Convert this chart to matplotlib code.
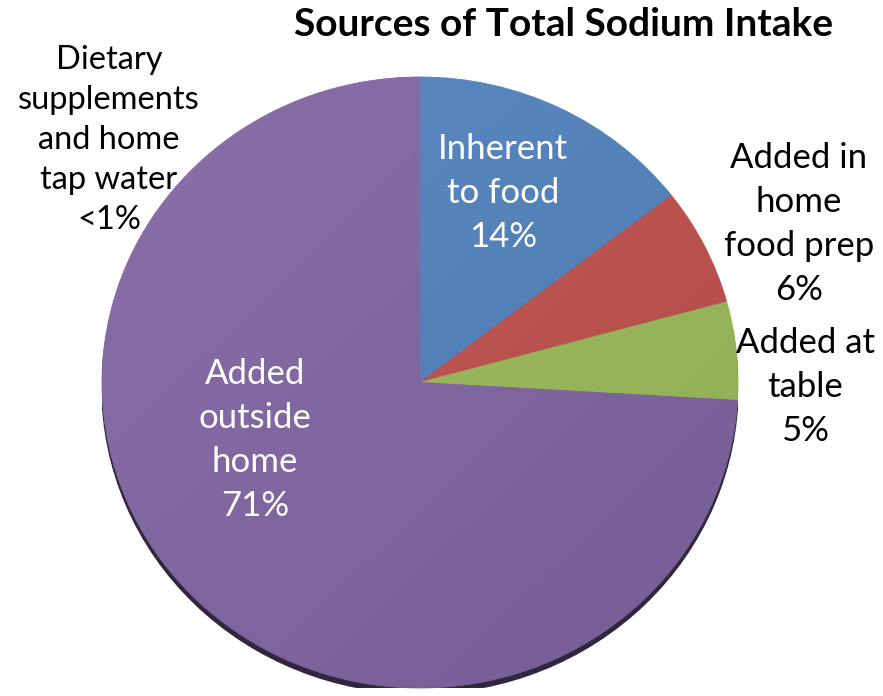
import numpy as np
import matplotlib
matplotlib.use("Agg")
import matplotlib.pyplot as plt
from matplotlib.patches import Ellipse

# data (clockwise from 12 o'clock)
sources = ["Inherent to food", "Added in home food prep", "Added at table",
           "Added outside home", "Dietary supplements and home tap water"]
shares = [14, 6, 5, 71, 0.4]
share_labels = ["14%", "6%", "5%", "71%", "<1%"]
colors = ["#4f81bd", "#c0504d", "#9bbb59", "#8064a2", "#8064a2"]

plt.rcParams["font.family"] = ["Lato", "DejaVu Sans"]

W, H = 883, 696
fig = plt.figure(figsize=(W / 100, H / 100), dpi=100)
# pie box in pixels: x 102..738, y 77..688 (slightly squashed like the original)
ax = fig.add_axes([102 / W, (H - 688) / H, 636 / W, 611 / H])

# dark rim under the pie
ax.add_patch(Ellipse((0.0, -0.018), 2.0, 2.0, color="#30263d", zorder=0))
wedges, _ = ax.pie(shares, colors=colors, startangle=90, counterclock=False,
                   radius=1.0, wedgeprops=dict(linewidth=0.6, zorder=1))
for w in wedges:
    w.set_edgecolor(w.get_facecolor())
ax.set_aspect("auto")
ax.set_xlim(-1, 1)
ax.set_ylim(-1, 1)
ax.axis("off")

# soft light-to-dark shading across the pie
yy, xx = np.mgrid[-1:1:200j, -1:1:200j]
shade = (xx - yy) / 2.0
im = ax.imshow(shade, extent=(-1, 1, -1, 1), cmap="gray_r", alpha=0.08,
               zorder=2, origin="lower", aspect="auto")
im.set_clip_path(Ellipse((0, 0), 2.0, 2.0, transform=ax.transData))

wrapped = ["Inherent\nto food",
           "Added in\nhome\nfood prep",
           "Added at\ntable",
           "Added\noutside\nhome",
           "Dietary\nsupplements\nand home\ntap water"]


def label(i, x, y, color, size=25, ls=1.47):
    fig.text(x / W, 1 - y / H, wrapped[i] + "\n" + share_labels[i], color=color,
             fontsize=size, ha="center", va="center", linespacing=ls)


label(0, 503, 193, "white")
label(1, 799, 224, "black")
label(2, 805, 387, "black")
label(3, 255, 440, "white")
label(4, 109, 140, "black", size=23.5, ls=1.41)

fig.text(564 / W, 1 - 25 / H, "Sources of Total Sodium Intake",
         fontsize=28, fontweight="bold", ha="center", va="center")

fig.savefig("out.png", dpi=100)
